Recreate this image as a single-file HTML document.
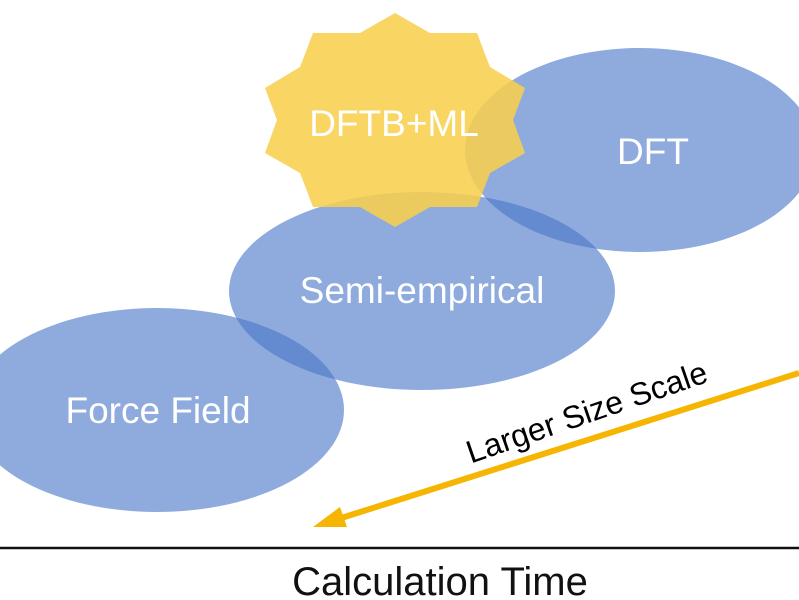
<!DOCTYPE html>
<html><head><style>html,body{margin:0;padding:0;background:#fff;width:799px;height:600px;overflow:hidden}</style></head>
<body>
<svg width="799" height="600" xmlns="http://www.w3.org/2000/svg" font-family="Liberation Sans, sans-serif">
<g fill="#4a78c8" fill-opacity="0.62">
<ellipse cx="157" cy="410" rx="187" ry="102"/>
<ellipse cx="422" cy="291" rx="193" ry="99"/>
<ellipse cx="640" cy="150" rx="175" ry="102"/>
</g>
<polygon fill="#f8cf4f" fill-opacity="0.88" points="395,13 430,33 477,33 490,67 525,88 513,120 525,153 490,173 477,207 430,207 395,227 360,207 313,207 300,173 265,153 277,120 265,88 300,67 313,33 360,33"/>
<g fill="#fff" font-size="37" text-anchor="middle">
<text x="394" y="136">DFTB+ML</text>
<text x="653" y="164">DFT</text>
<text x="422" y="303">Semi-empirical</text>
<text x="158" y="423">Force Field</text>
</g>
<line x1="799" y1="373" x2="335" y2="520" stroke="#f5b500" stroke-width="6"/>
<polygon fill="#f5b500" points="313,527 340,507 347,527"/>
<text x="587" y="423" font-size="32" text-anchor="middle" transform="rotate(-19 587 413)">Larger Size Scale</text>
<line x1="0" y1="548" x2="799" y2="548" stroke="#111" stroke-width="2.5"/>
<text x="440" y="595" font-size="40" text-anchor="middle" fill="#111">Calculation Time</text>
</svg>
</body></html>
